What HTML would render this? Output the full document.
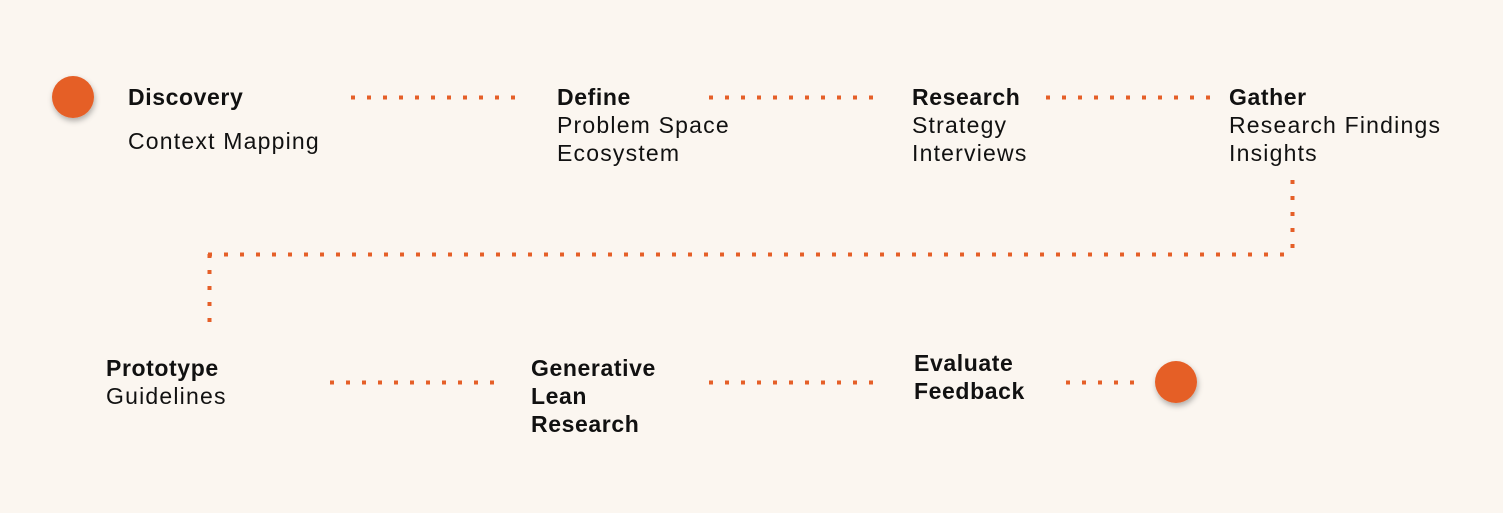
<!DOCTYPE html>
<html><head><meta charset="utf-8"><style>
body{margin:0;width:1503px;height:513px;background:#fbf6f0;position:relative;overflow:hidden;font-family:"Liberation Sans",sans-serif;color:#111}
.t{position:absolute;font-size:23px;line-height:28px;white-space:nowrap;letter-spacing:1.2px}
.t b{font-weight:bold;letter-spacing:0.6px}
svg{position:absolute;left:0;top:0}
</style></head><body>
<svg width="1503" height="513">
<defs><filter id="sh" x="-50%" y="-50%" width="200%" height="200%"><feDropShadow dx="1" dy="3" stdDeviation="3" flood-color="#000" flood-opacity="0.3"/></filter></defs>
<g stroke="#e55f28" stroke-width="4" stroke-dasharray="4 12" fill="none">
<line x1="351" y1="97.5" x2="520" y2="97.5"/>
<line x1="709" y1="97.5" x2="878" y2="97.5"/>
<line x1="1046" y1="97.5" x2="1215" y2="97.5"/>
<line x1="1292.5" y1="180" x2="1292.5" y2="248"/>
<line x1="1284" y1="254.5" x2="208" y2="254.5"/>
<line x1="209.5" y1="254" x2="209.5" y2="325"/>
<line x1="330" y1="382.5" x2="500" y2="382.5"/>
<line x1="709" y1="382.5" x2="878" y2="382.5"/>
<line x1="1066" y1="382.5" x2="1140" y2="382.5"/>
</g>
<circle cx="73" cy="97" r="21" fill="#e55f28" filter="url(#sh)"/>
<circle cx="1176" cy="382" r="21" fill="#e55f28" filter="url(#sh)"/>
</svg>
<div class="t" style="left:128px;top:83px"><b>Discovery</b><div style="margin-top:16px">Context Mapping</div></div>
<div class="t" style="left:557px;top:83px"><b>Define</b><br>Problem Space<br>Ecosystem</div>
<div class="t" style="left:912px;top:83px"><b>Research</b><br>Strategy<br>Interviews</div>
<div class="t" style="left:1229px;top:83px"><b>Gather</b><br>Research Findings<br>Insights</div>
<div class="t" style="left:106px;top:354px"><b>Prototype</b><br>Guidelines</div>
<div class="t" style="left:531px;top:354px"><b>Generative<br>Lean<br>Research</b></div>
<div class="t" style="left:914px;top:349px"><b>Evaluate<br>Feedback</b></div>
</body></html>
